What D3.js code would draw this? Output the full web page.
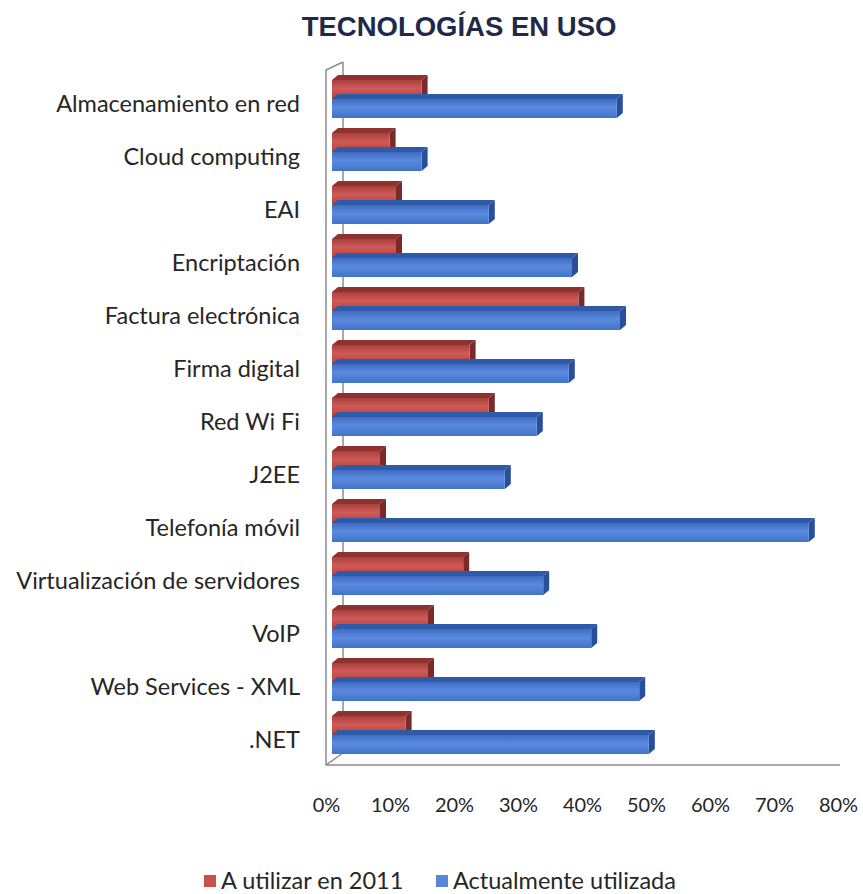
<!DOCTYPE html>
<html>
<head>
<meta charset="utf-8">
<script src="https://cdn.jsdelivr.net/npm/d3@7"></script>
<style>
  body { margin: 0; background: #fff; }
  svg text { font-family: Lato, "Open Sans", sans-serif; }
</style>
</head>
<body>
<svg id="chart" width="863" height="894"></svg>
<script>
// data
const categories = [
  'Almacenamiento en red', 'Cloud computing', 'EAI', 'Encriptación',
  'Factura electrónica', 'Firma digital', 'Red Wi Fi', 'J2EE',
  'Telefonía móvil', 'Virtualización de servidores', 'VoIP',
  'Web Services - XML', '.NET'
];
const aUtilizar2011 = [14, 9, 10, 10, 38.5, 21.5, 24.5, 7.5, 7.5, 20.5, 15, 15, 11.5];
const actualmente = [44.5, 14, 24.5, 37.5, 45, 37, 32, 27, 74.5, 33, 40.5, 48, 49.5];
const seriesNames = ['A utilizar en 2011', 'Actualmente utilizada'];
const tickValues = [0, 10, 20, 30, 40, 50, 60, 70, 80];

const svg = d3.select('#chart');

// gradients for the bar faces
const defs = svg.append('defs');
const faceColors = [
  { id: 'redFace', c: ['#a8403d', '#cf5a56', '#b4423f'] },
  { id: 'blueFace', c: ['#3f6cc0', '#5a8ae0', '#4274c8'] }
];
faceColors.forEach(f => {
  const g = defs.append('linearGradient').attr('id', f.id)
    .attr('x1', 0).attr('y1', 0).attr('x2', 0).attr('y2', 1);
  g.append('stop').attr('offset', '0%').attr('stop-color', f.c[0]);
  g.append('stop').attr('offset', '45%').attr('stop-color', f.c[1]);
  g.append('stop').attr('offset', '100%').attr('stop-color', f.c[2]);
});
const topColors = ['#8e3230', '#2f5aa8'];
const sideColors = ['#7a2a28', '#28509a'];

// scales
const xBar = d3.scaleLinear().domain([0, 80]).range([332, 844]);
const xAxisScale = d3.scaleLinear().domain([0, 80]).range([326, 838]);
const yBand = d3.scaleBand().domain(categories)
  .range([72.5, 761.5]).paddingInner(0.283).paddingOuter(0.1415);
const ySub = d3.scaleBand().domain(seriesNames).range([0, yBand.bandwidth()]);

const dx = 6, dy = 5;

// walls (3D frame)
const wall = svg.append('g').attr('stroke', '#8c8c8c').attr('fill', 'none').attr('stroke-width', 1.5);
wall.append('line').attr('x1', 343).attr('y1', 62).attr('x2', 343).attr('y2', 753);
wall.append('polyline')
  .attr('points', [[343, 62], [326, 70], [326, 765], [xAxisScale(80) + 2, 765]].join(' '));
wall.append('line').attr('x1', 326).attr('y1', 765).attr('x2', 343).attr('y2', 753);

// bars
const rows = svg.append('g').selectAll('g')
  .data(categories)
  .join('g')
  .attr('transform', d => `translate(0,${yBand(d)})`);

const values = [aUtilizar2011, actualmente];
seriesNames.forEach((s, si) => {
  rows.each(function (cat, ci) {
    const v = values[si][ci];
    const x0 = xBar(0), x1 = xBar(v);
    const y = ySub(s), h = ySub.bandwidth();
    const g = d3.select(this);
    // top face
    g.append('polygon')
      .attr('points', [[x0, y], [x0 + dx, y - dy], [x1 + dx, y - dy], [x1, y]].join(' '))
      .attr('fill', topColors[si]);
    // side face
    g.append('polygon')
      .attr('points', [[x1, y], [x1 + dx, y - dy], [x1 + dx, y + h - dy], [x1, y + h]].join(' '))
      .attr('fill', sideColors[si]);
    // front face
    g.append('rect')
      .attr('x', x0).attr('y', y)
      .attr('width', x1 - x0).attr('height', h)
      .attr('fill', `url(#${faceColors[si].id})`);
  });
});

// category labels
svg.append('g').selectAll('text')
  .data(categories)
  .join('text')
  .attr('x', 300)
  .attr('y', d => yBand(d) + yBand.bandwidth() / 2 + 5)
  .attr('dy', '0.35em')
  .attr('text-anchor', 'end')
  .attr('font-size', 23.5)
  .attr('fill', '#262626')
  .text(d => d);

// x axis tick labels
const xAxis = svg.append('g')
  .attr('transform', 'translate(0,795)')
  .call(d3.axisBottom(xAxisScale).tickValues(tickValues).tickFormat(d => d + '%').tickSize(0));
xAxis.select('.domain').remove();
xAxis.selectAll('text')
  .attr('font-size', 20)
  .attr('font-family', 'Lato, sans-serif')
  .attr('fill', '#262626');

// title
svg.append('text')
  .attr('x', 459)
  .attr('y', 36)
  .attr('text-anchor', 'middle')
  .style('font-family', '"Liberation Sans", Arial, sans-serif')
  .attr('font-weight', 'bold')
  .attr('font-size', 27.5)
  .attr('fill', '#1f2a48')
  .text('TECNOLOGÍAS EN USO');

// legend
const legendX = [204, 436];
const legend = svg.append('g').selectAll('g')
  .data(seriesNames)
  .join('g')
  .attr('transform', (d, i) => `translate(${legendX[i]},875)`);
legend.append('rect')
  .attr('width', 12).attr('height', 12)
  .attr('fill', (d, i) => i === 0 ? '#c9504d' : '#5a86d8');
legend.append('text')
  .attr('x', 17).attr('y', 6)
  .attr('dy', '0.35em')
  .attr('font-size', 23.5)
  .attr('fill', '#262626')
  .text(d => d);
</script>
</body>
</html>
